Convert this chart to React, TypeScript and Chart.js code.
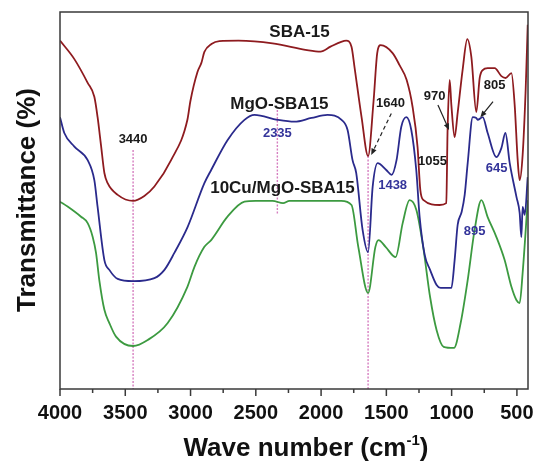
import React, { useEffect, useRef } from 'react';
import { Chart, registerables } from 'chart.js';

Chart.register(...registerables);

const FONT = '"Liberation Sans", Arial, Helvetica, sans-serif';

// ---- Data (wavenumber in cm-1, transmittance in arbitrary %) ----
const sbaWave = [4000, 3890, 3788, 3737, 3712, 3686, 3660, 3635, 3558, 3440, 3354, 3277, 3149, 3024, 3001, 2947, 2917, 2894, 2840, 2779, 2633, 2372, 2108, 2004, 1928, 1846, 1807, 1767, 1744, 1690, 1640, 1598, 1570, 1544, 1452, 1399, 1345, 1299, 1261, 1240, 1215, 1092, 1041, 1031, 1015, 1002, 977, 954, 916, 880, 849, 811, 785, 762, 724, 670, 619, 586, 542, 517, 494, 479, 456, 433, 417];
const sbaT = [92.4, 87.5, 81.2, 77.5, 72.1, 64.7, 57.3, 54.6, 51.5, 49.9, 51.2, 53.7, 60.7, 71.4, 76.4, 84.1, 86.5, 89.4, 91.5, 92.3, 92.4, 91.7, 89.9, 89.5, 90.8, 92.1, 92.4, 90.8, 85.4, 72.1, 61.8, 76.4, 89.1, 91.2, 89.1, 85.9, 82.0, 74.8, 64.2, 52.8, 50.1, 48.8, 49.3, 68.7, 82.0, 75.3, 66.8, 73.2, 84.6, 92.8, 88.1, 73.5, 82.5, 84.6, 85.1, 85.1, 83.0, 82.5, 83.8, 75.3, 60.7, 55.4, 62.1, 79.3, 96.6];

const mgoWave = [4000, 3967, 3890, 3788, 3737, 3712, 3660, 3622, 3558, 3440, 3277, 3200, 3124, 3022, 2894, 2842, 2717, 2587, 2510, 2334, 2204, 2073, 1951, 1843, 1797, 1759, 1731, 1682, 1640, 1605, 1567, 1501, 1460, 1422, 1386, 1347, 1309, 1271, 1245, 1206, 1165, 1115, 1084, 1002, 977, 954, 923, 900, 877, 838, 811, 801, 762, 724, 657, 619, 588, 555, 503, 479, 466, 456, 440, 417];
const mgoT = [72.1, 67.9, 64.3, 60.7, 55.4, 48.3, 34.2, 31.6, 29.2, 28.6, 29.4, 31.6, 36.1, 43.0, 54.6, 58.1, 66.0, 71.4, 72.7, 71.4, 70.9, 71.9, 72.7, 71.4, 68.7, 60.7, 57.3, 42.2, 36.3, 53.6, 59.9, 58.1, 56.8, 60.7, 69.5, 72.1, 68.7, 58.1, 45.6, 35.5, 31.6, 27.6, 26.8, 26.8, 34.2, 43.5, 47.0, 51.5, 59.9, 72.1, 71.9, 71.4, 72.1, 67.9, 61.5, 63.9, 67.9, 59.9, 50.9, 46.7, 40.3, 48.3, 46.2, 56.2];

const cuWave = [4000, 3942, 3839, 3788, 3750, 3724, 3699, 3660, 3622, 3571, 3440, 3328, 3175, 3024, 2970, 2894, 2842, 2717, 2587, 2502, 2372, 2291, 2242, 2108, 1846, 1767, 1715, 1640, 1584, 1560, 1506, 1429, 1375, 1322, 1270, 1218, 1165, 1115, 1061, 982, 931, 877, 824, 772, 724, 657, 594, 542, 504, 479, 456, 417];
const cuT = [49.7, 48.4, 45.7, 44.0, 40.4, 36.1, 28.9, 21.0, 17.5, 13.9, 11.4, 13.0, 17.5, 27.1, 32.4, 37.7, 39.5, 45.7, 49.7, 49.9, 49.9, 49.3, 49.9, 49.9, 49.9, 48.8, 37.7, 25.5, 37.7, 39.5, 37.7, 35.0, 44.0, 50.1, 47.5, 37.7, 24.4, 15.6, 11.2, 10.9, 17.5, 28.9, 42.2, 50.1, 45.6, 40.3, 34.2, 27.1, 23.6, 22.8, 30.8, 50.1];

const seriesNames = ['SBA-15', 'MgO-SBA15', '10Cu/MgO-SBA15'];
const seriesColors = ['#8e1b1f', '#2a2a8c', '#3c9a40'];

const xMin = 415;
const xMax = 4000;
const xMajorTicks = [4000, 3500, 3000, 2500, 2000, 1500, 1000, 500];
const xMinorTicks = [3750, 3250, 2750, 2250, 1750, 1250, 750];

// guide lines: wavenumber, top value, bottom value
const guideWave = [3440, 2335, 1640];
const guideTop = [63.4, 74.0, 61.8];
const guideBottom = [0, 46.2, 0];

// annotation text at (wavenumber, value)
const labelText = ['SBA-15', 'MgO-SBA15', '10Cu/MgO-SBA15', '3440', '2335', '1640', '1438', '1055', '970', '805', '645', '895'];
const labelWave = [2165, 2319, 2296, 3440, 2335, 1468, 1452, 1146, 1130, 670, 655, 824];
const labelT = [94.7, 75.6, 53.3, 66.3, 67.9, 75.8, 54.1, 60.3, 77.7, 80.4, 58.4, 41.9];
const labelBlue = [false, false, false, false, true, false, true, false, false, false, true, true];
const labelBig = [true, true, true, false, false, false, false, false, false, false, false, false];

// arrows: from (w,T) to (w,T)
const arrowFromW = [1462, 1105, 683];
const arrowFromT = [73.1, 75.3, 76.2];
const arrowToW = [1616, 1020, 780];
const arrowToT = [62.1, 68.7, 72.1];
const arrowDashed = [true, false, false];

function drawArrow(ctx: CanvasRenderingContext2D, x1: number, y1: number, x2: number, y2: number, dashed: boolean) {
  const ang = Math.atan2(y2 - y1, x2 - x1);
  const headLen = 7;
  ctx.save();
  ctx.strokeStyle = '#222';
  ctx.fillStyle = '#222';
  ctx.lineWidth = 1.2;
  ctx.setLineDash(dashed ? [4, 3] : []);
  ctx.beginPath();
  ctx.moveTo(x1, y1);
  ctx.lineTo(x2 - Math.cos(ang) * 4, y2 - Math.sin(ang) * 4);
  ctx.stroke();
  ctx.setLineDash([]);
  ctx.beginPath();
  ctx.moveTo(x2, y2);
  ctx.lineTo(x2 - headLen * Math.cos(ang - 0.4), y2 - headLen * Math.sin(ang - 0.4));
  ctx.lineTo(x2 - headLen * Math.cos(ang + 0.4), y2 - headLen * Math.sin(ang + 0.4));
  ctx.closePath();
  ctx.fill();
  ctx.restore();
}

const decorPlugin = {
  id: 'decor',
  beforeDatasetsDraw(chart: any) {
    const { ctx, scales } = chart;
    const x = scales.x;
    const y = scales.y;
    ctx.save();
    ctx.strokeStyle = '#d67ec0';
    ctx.lineWidth = 1.4;
    ctx.setLineDash([2, 1.5]);
    guideWave.forEach((w, i) => {
      const px = x.getPixelForValue(w);
      ctx.beginPath();
      ctx.moveTo(px, y.getPixelForValue(guideTop[i]));
      ctx.lineTo(px, y.getPixelForValue(guideBottom[i]));
      ctx.stroke();
    });
    ctx.restore();
  },
  afterDraw(chart: any) {
    const { ctx, chartArea, scales } = chart;
    const x = scales.x;
    const y = scales.y;
    ctx.save();
    // frame
    ctx.strokeStyle = '#3a3a3a';
    ctx.lineWidth = 1.5;
    ctx.strokeRect(chartArea.left, chartArea.top, chartArea.right - chartArea.left, chartArea.bottom - chartArea.top);
    // ticks
    ctx.lineWidth = 1.5;
    ctx.beginPath();
    xMajorTicks.forEach((v) => {
      const px = x.getPixelForValue(v);
      ctx.moveTo(px, chartArea.bottom);
      ctx.lineTo(px, chartArea.bottom + 7);
    });
    xMinorTicks.forEach((v) => {
      const px = x.getPixelForValue(v);
      ctx.moveTo(px, chartArea.bottom);
      ctx.lineTo(px, chartArea.bottom + 4);
    });
    ctx.stroke();

    // annotation labels
    ctx.textAlign = 'center';
    ctx.textBaseline = 'middle';
    labelText.forEach((t, i) => {
      ctx.font = labelBig[i] ? `bold 17px ${FONT}` : `bold 13px ${FONT}`;
      ctx.fillStyle = labelBlue[i] ? '#34349a' : '#1a1a1a';
      ctx.fillText(t, x.getPixelForValue(labelWave[i]), y.getPixelForValue(labelT[i]));
    });

    // arrows
    arrowFromW.forEach((w, i) => {
      drawArrow(ctx, x.getPixelForValue(w), y.getPixelForValue(arrowFromT[i]), x.getPixelForValue(arrowToW[i]), y.getPixelForValue(arrowToT[i]), arrowDashed[i]);
    });

    // y title
    ctx.fillStyle = '#111';
    ctx.save();
    ctx.translate(35, 200);
    ctx.rotate(-Math.PI / 2);
    ctx.font = `bold 26px ${FONT}`;
    ctx.textAlign = 'center';
    ctx.textBaseline = 'alphabetic';
    ctx.fillText('Transmittance (%)', 0, 0);
    ctx.restore();

    // x title with superscript
    const main = 'Wave number (cm';
    const sup = '-1';
    const close = ')';
    ctx.textAlign = 'left';
    ctx.textBaseline = 'alphabetic';
    ctx.font = `bold 26px ${FONT}`;
    const wMain = ctx.measureText(main).width;
    const wClose = ctx.measureText(close).width;
    ctx.font = `bold 15px ${FONT}`;
    const wSup = ctx.measureText(sup).width;
    const total = wMain + wSup + wClose;
    let sx = 306 - total / 2;
    const base = 456;
    ctx.font = `bold 26px ${FONT}`;
    ctx.fillText(main, sx, base);
    sx += wMain;
    ctx.font = `bold 15px ${FONT}`;
    ctx.fillText(sup, sx, base - 11);
    sx += wSup;
    ctx.font = `bold 26px ${FONT}`;
    ctx.fillText(close, sx, base);
    ctx.restore();
  },
};

export default function App() {
  const canvasRef = useRef<HTMLCanvasElement | null>(null);

  useEffect(() => {
    if (!canvasRef.current) return;
    const waves = [sbaWave, mgoWave, cuWave];
    const vals = [sbaT, mgoT, cuT];
    const chart = new Chart(canvasRef.current, {
      type: 'line',
      data: {
        datasets: seriesNames.map((name, i) => ({
          label: name,
          data: waves[i].map((w, j) => ({ x: w, y: vals[i][j] })),
          borderColor: seriesColors[i],
          borderWidth: 1.8,
          pointRadius: 0,
          fill: false,
          cubicInterpolationMode: 'monotone' as const,
        })),
      },
      options: {
        animation: false,
        responsive: false,
        devicePixelRatio: 1,
        layout: { padding: { top: 12, right: 5, left: 0, bottom: 0 } },
        plugins: {
          legend: { display: false },
          tooltip: { enabled: false },
          title: { display: false },
        },
        scales: {
          x: {
            type: 'linear',
            min: xMin,
            max: xMax,
            reverse: true,
            afterBuildTicks: (s: any) => {
              s.ticks = xMajorTicks.map((v) => ({ value: v }));
            },
            afterFit: (s: any) => {
              s.height = 72;
              s.paddingLeft = 0;
              s.paddingRight = 0;
            },
            ticks: {
              autoSkip: false,
              maxRotation: 0,
              padding: 5,
              color: '#111',
              font: { family: FONT, size: 20, weight: 'bold' },
              callback: (v: any) => String(v),
            },
            grid: { display: false, drawTicks: true, tickLength: 7 },
            border: { display: false },
          },
          y: {
            type: 'linear',
            min: 0,
            max: 100,
            afterFit: (s: any) => {
              s.width = 60;
              s.paddingTop = 0;
              s.paddingBottom = 0;
            },
            ticks: { display: false },
            grid: { display: false, drawTicks: false },
            border: { display: false },
          },
        },
      },
      plugins: [decorPlugin],
    });
    return () => chart.destroy();
  }, []);

  return (
    <div style={{ position: 'fixed', left: 0, top: 0, width: 533, height: 461, background: '#fff' }}>
      <canvas ref={canvasRef} width={533} height={461} style={{ display: 'block' }} />
    </div>
  );
}
